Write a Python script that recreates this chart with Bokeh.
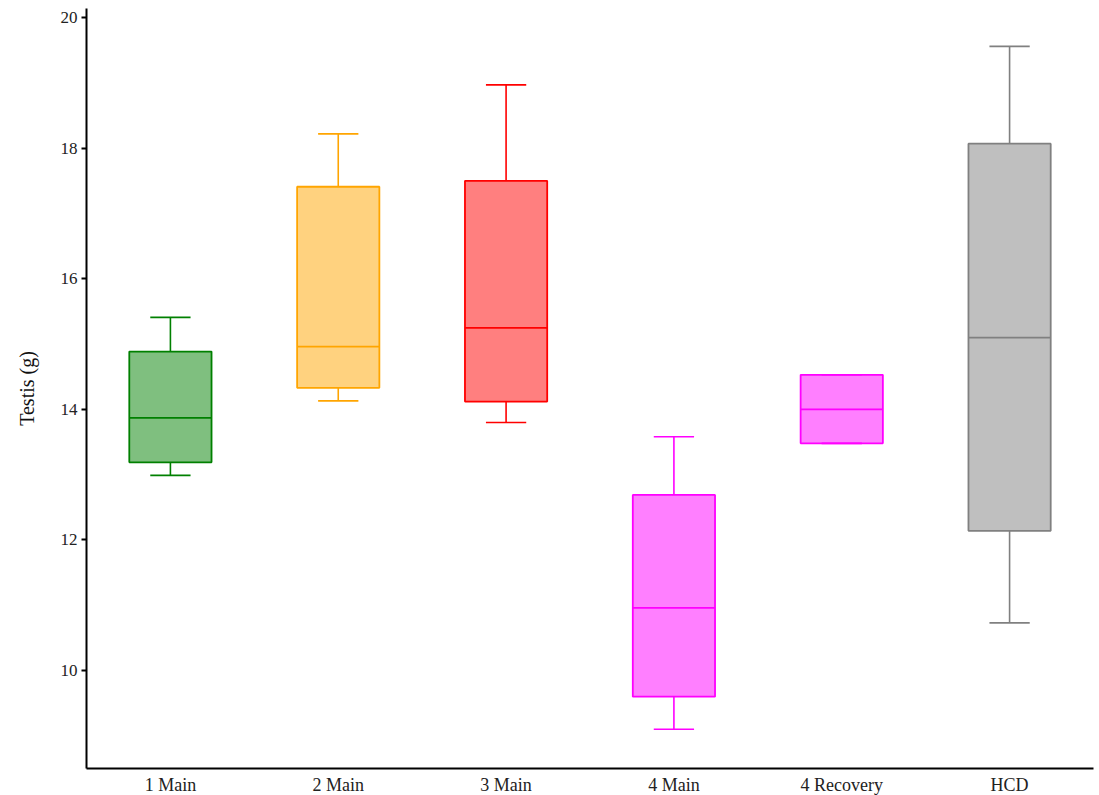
from bokeh.plotting import figure
from bokeh.models import ColumnDataSource, FactorRange, Range1d, FixedTicker
from bokeh.transform import dodge
from bokeh.embed import file_html
from bokeh.resources import INLINE

groups = ["1 Main", "2 Main", "3 Main", "4 Main", "4 Recovery", "HCD"]
lower = [12.99, 14.13, 13.80, 9.10, 13.48, 10.73]
q1 = [13.19, 14.33, 14.12, 9.60, 13.48, 12.14]
median = [13.87, 14.96, 15.25, 10.96, 14.00, 15.10]
q3 = [14.885, 17.41, 17.50, 12.69, 14.53, 18.07]
upper = [15.41, 18.22, 18.97, 13.58, 14.53, 19.56]
colors = ["#008000", "#ffa500", "#ff0000", "#ff00ff", "#ff00ff", "#808080"]
yticks = [10, 12, 14, 16, 18, 20]

src = ColumnDataSource(dict(g=groups, lower=lower, q1=q1, median=median,
                            q3=q3, upper=upper, color=colors))

p = figure(x_range=FactorRange(*groups, range_padding=0), y_range=Range1d(8.5, 20.14),
           width=1099, height=797, output_backend="svg", toolbar_location=None,
           min_border_left=86, min_border_right=6, min_border_top=8, min_border_bottom=20)
p.outline_line_color = None
p.xgrid.visible = False
p.ygrid.visible = False
p.background_fill_color = "white"

xr = p.x_range
# whiskers
p.segment(x0="g", y0="q3", x1="g", y1="upper", source=src, line_color="color", line_width=1.6)
p.segment(x0="g", y0="q1", x1="g", y1="lower", source=src, line_color="color", line_width=1.6)
p.segment(x0=dodge("g", -0.12, range=xr), y0="upper", x1=dodge("g", 0.12, range=xr), y1="upper",
          source=src, line_color="color", line_width=1.6)
p.segment(x0=dodge("g", -0.12, range=xr), y0="lower", x1=dodge("g", 0.12, range=xr), y1="lower",
          source=src, line_color="color", line_width=1.6)
# boxes
p.vbar(x="g", width=0.49, top="q3", bottom="q1", source=src, fill_color="color",
       fill_alpha=0.5, line_color="color", line_width=1.8)
p.segment(x0=dodge("g", -0.245, range=xr), y0="median", x1=dodge("g", 0.245, range=xr), y1="median",
          source=src, line_color="color", line_width=1.8)

font = "Liberation Serif"
p.yaxis.ticker = FixedTicker(ticks=yticks)
p.yaxis.minor_tick_line_color = None
p.yaxis.major_tick_out = 5
p.yaxis.major_tick_in = 0
p.yaxis.major_tick_line_width = 2
p.yaxis.axis_line_width = 2
p.yaxis.major_label_text_font = font
p.yaxis.major_label_text_font_size = "17px"
p.yaxis.major_label_text_color = "#222222"
p.yaxis.major_label_standoff = 4
p.yaxis.axis_label = "Testis (g)"
p.yaxis.axis_label_text_font = font
p.yaxis.axis_label_text_font_size = "20px"
p.yaxis.axis_label_text_font_style = "normal"
p.yaxis.axis_label_text_color = "#111111"
p.yaxis.axis_label_standoff = 20

p.xaxis.major_tick_line_color = None
p.xaxis.minor_tick_line_color = None
p.xaxis.major_tick_out = 0
p.xaxis.major_tick_in = 0
p.xaxis.axis_line_width = 2
p.xaxis.major_label_text_font = font
p.xaxis.major_label_text_font_size = "18px"
p.xaxis.major_label_text_color = "#222222"
p.xaxis.major_label_standoff = 6

open("out.html", "w").write(file_html(p, INLINE))
